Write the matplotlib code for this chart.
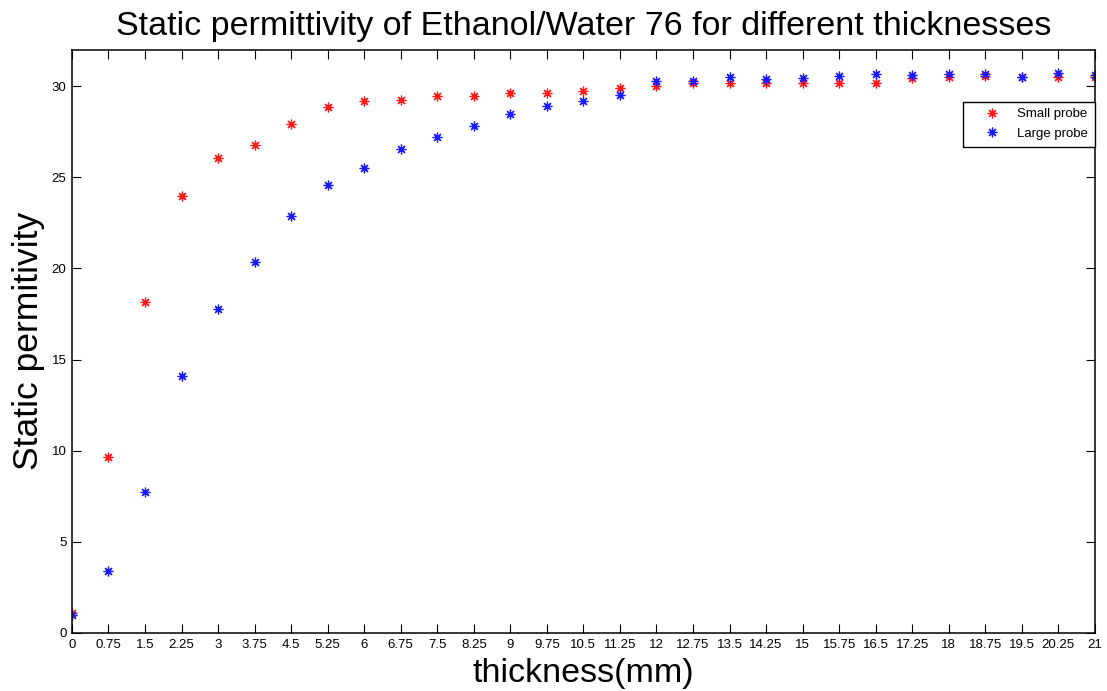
import matplotlib
matplotlib.use("Agg")
import matplotlib.pyplot as plt
import numpy as np

plt.rcParams['font.family'] = ['Liberation Sans', 'DejaVu Sans']

# Sample thickness (mm)
thickness = [0, 0.75, 1.5, 2.25, 3, 3.75, 4.5, 5.25, 6, 6.75, 7.5, 8.25, 9, 9.75,
             10.5, 11.25, 12, 12.75, 13.5, 14.25, 15, 15.75, 16.5, 17.25, 18,
             18.75, 19.5, 20.25, 21]

# Measured static permittivity
small_probe = [1.11, 9.65, 18.18, 23.97, 26.07, 26.75, 27.90, 28.86, 29.21, 29.25,
               29.45, 29.45, 29.65, 29.65, 29.76, 29.88, 29.99, 30.16, 30.20, 30.16,
               30.16, 30.16, 30.16, 30.45, 30.49, 30.56, 30.53, 30.51, 30.53]
large_probe = [0.98, 3.39, 7.73, 14.12, 17.75, 20.38, 22.86, 24.56, 25.52, 26.53,
               27.20, 27.84, 28.46, 28.92, 29.19, 29.54, 30.27, 30.31, 30.50, 30.40,
               30.45, 30.56, 30.69, 30.60, 30.67, 30.67, 30.50, 30.74, 30.63]

xtick_labels = ['0', '0.75', '1.5', '2.25', '3', '3.75', '4.5', '5.25', '6', '6.75',
                '7.5', '8.25', '9', '9.75', '10.5', '11.25', '12', '12.75', '13.5',
                '14.25', '15', '15.75', '16.5', '17.25', '18', '18.75', '19.5',
                '20.25', '21']
ytick_values = [0, 5, 10, 15, 20, 25, 30]

fig = plt.figure(figsize=(11.07, 6.91), dpi=100)
ax = fig.add_axes([0.065, 0.084, 0.924, 0.844])

star = (8, 2, 0)  # eight-spoke asterisk
ax.plot(thickness, small_probe, linestyle='none', marker=star, markersize=7,
        markeredgewidth=0.9, color='#ff1a1a', label='Small probe')
ax.plot(thickness, large_probe, linestyle='none', marker=star, markersize=7,
        markeredgewidth=0.9, color='#1a1aff', label='Large probe')

ax.set_xlim(0, 21)
ax.set_ylim(0, 32)
ax.set_xticks(thickness)
ax.set_xticklabels(xtick_labels)
ax.set_yticks(ytick_values)

ax.tick_params(direction='in', length=6.5, width=0.8, labelsize=9.5,
               top=True, right=True, pad=4)
for sp in ax.spines.values():
    sp.set_linewidth(1.1)

ax.set_title('Static permittivity of Ethanol/Water 76 for different thicknesses',
             fontsize=24.5, pad=10.5)
ax.set_xlabel('thickness(mm)', fontsize=24.5, labelpad=5.5)
ax.set_ylabel('Static permitivity', fontsize=25.5, labelpad=5)

leg = ax.legend(loc='upper right', bbox_to_anchor=(1.0, 0.911), fontsize=9.5,
                frameon=True, fancybox=False, framealpha=1, edgecolor='black',
                handlelength=3.4, borderpad=0.5, labelspacing=0.55,
                handletextpad=0.2, borderaxespad=0)
leg.get_frame().set_linewidth(1.0)

fig.savefig('out.png', dpi=100)
